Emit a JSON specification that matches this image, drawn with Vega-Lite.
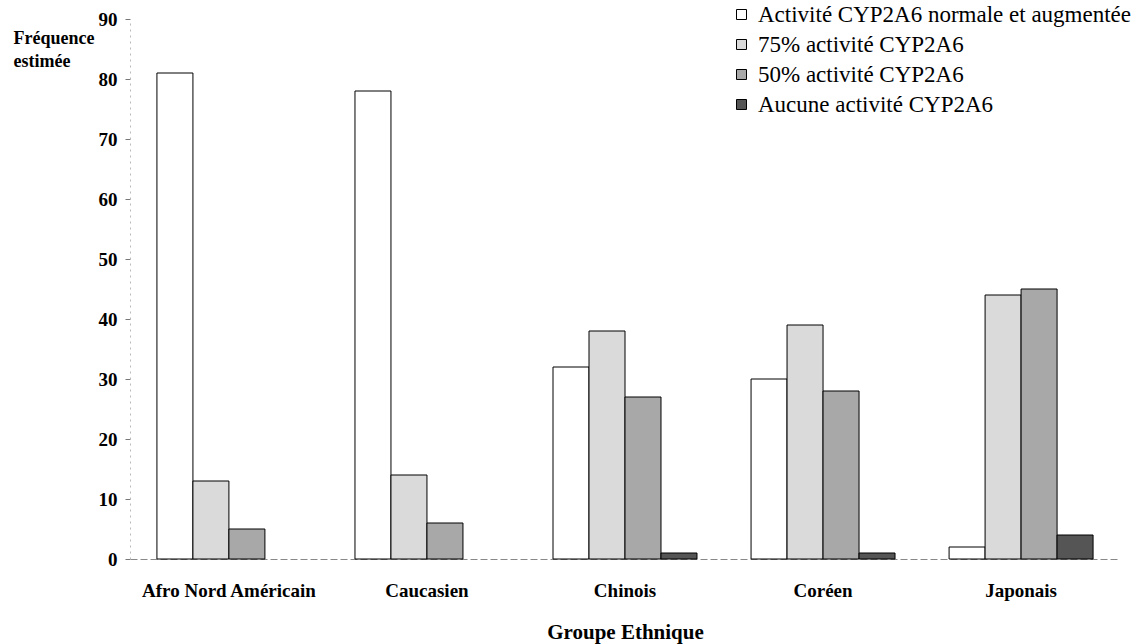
{
  "$schema": "https://vega.github.io/schema/vega-lite/v6.json",
  "width": 990,
  "height": 540,
  "autosize": {"type": "none"},
  "padding": {"left": 130, "top": 19, "right": 24, "bottom": 85},
  "background": "white",
  "config": {
    "view": {"stroke": null},
    "font": "Liberation Serif",
    "legend": {"labelFont": "Liberation Serif"},
    "axis": {"titleFont": "Liberation Serif", "labelFont": "Liberation Serif"}
  },
  "data": {
    "values": [
      {"groupe": "Afro Nord Américain", "activite": "Activité CYP2A6 normale et augmentée", "frequence": 81},
      {"groupe": "Afro Nord Américain", "activite": "75% activité CYP2A6", "frequence": 13},
      {"groupe": "Afro Nord Américain", "activite": "50% activité CYP2A6", "frequence": 5},
      {"groupe": "Caucasien", "activite": "Activité CYP2A6 normale et augmentée", "frequence": 78},
      {"groupe": "Caucasien", "activite": "75% activité CYP2A6", "frequence": 14},
      {"groupe": "Caucasien", "activite": "50% activité CYP2A6", "frequence": 6},
      {"groupe": "Chinois", "activite": "Activité CYP2A6 normale et augmentée", "frequence": 32},
      {"groupe": "Chinois", "activite": "75% activité CYP2A6", "frequence": 38},
      {"groupe": "Chinois", "activite": "50% activité CYP2A6", "frequence": 27},
      {"groupe": "Chinois", "activite": "Aucune activité CYP2A6", "frequence": 1},
      {"groupe": "Coréen", "activite": "Activité CYP2A6 normale et augmentée", "frequence": 30},
      {"groupe": "Coréen", "activite": "75% activité CYP2A6", "frequence": 39},
      {"groupe": "Coréen", "activite": "50% activité CYP2A6", "frequence": 28},
      {"groupe": "Coréen", "activite": "Aucune activité CYP2A6", "frequence": 1},
      {"groupe": "Japonais", "activite": "Activité CYP2A6 normale et augmentée", "frequence": 2},
      {"groupe": "Japonais", "activite": "75% activité CYP2A6", "frequence": 44},
      {"groupe": "Japonais", "activite": "50% activité CYP2A6", "frequence": 45},
      {"groupe": "Japonais", "activite": "Aucune activité CYP2A6", "frequence": 4}
    ]
  },
  "mark": {"type": "bar", "stroke": "black", "strokeWidth": 1, "opacity": 1},
  "encoding": {
    "x": {
      "field": "groupe",
      "type": "nominal",
      "sort": ["Afro Nord Américain", "Caucasien", "Chinois", "Coréen", "Japonais"],
      "scale": {"paddingInner": 0.273, "paddingOuter": 0.136},
      "axis": {
        "title": "Groupe Ethnique",
        "titleFont": "Liberation Serif",
        "titleFontSize": 21,
        "titleFontWeight": "bold",
        "titleColor": "black",
        "titlePadding": 21,
        "labelAngle": 0,
        "labelFont": "Liberation Serif",
        "labelFontSize": 19,
        "labelFontWeight": "bold",
        "labelColor": "black",
        "labelPadding": 22,
        "ticks": false,
        "domainColor": "#888888",
        "domainDash": [7, 3],
        "domainWidth": 1
      }
    },
    "xOffset": {
      "field": "activite",
      "type": "nominal",
      "scale": {"paddingInner": 0, "paddingOuter": 0, "domain": ["Activité CYP2A6 normale et augmentée", "75% activité CYP2A6", "50% activité CYP2A6", "Aucune activité CYP2A6"]}
    },
    "y": {
      "field": "frequence",
      "type": "quantitative",
      "scale": {"domain": [0, 90], "nice": false},
      "axis": {
        "title": ["Fréquence", "estimée"],
        "titleFont": "Liberation Serif",
        "titleFontSize": 18,
        "titleFontWeight": "bold",
        "titleColor": "black",
        "titleAngle": 0,
        "titleAlign": "left",
        "titleBaseline": "alphabetic",
        "titleLineHeight": 23,
        "titleX": -117,
        "titleY": 24,
        "values": [0, 10, 20, 30, 40, 50, 60, 70, 80, 90],
        "grid": false,
        "labelFont": "Liberation Serif",
        "labelFontSize": 19,
        "labelFontWeight": "bold",
        "labelColor": "black",
        "labelPadding": 8,
        "tickSize": 5,
        "tickColor": "#777777",
        "domainColor": "#bbbbbb",
        "domainDash": [2, 4]
      }
    },
    "fill": {
      "field": "activite",
      "type": "nominal",
      "scale": {
        "domain": ["Activité CYP2A6 normale et augmentée", "75% activité CYP2A6", "50% activité CYP2A6", "Aucune activité CYP2A6"],
        "range": ["#ffffff", "#dadada", "#a8a8a8", "#555555"]
      },
      "legend": {
        "title": null,
        "orient": "none",
        "legendX": 600,
        "legendY": -16,
        "symbolType": "square",
        "symbolSize": 100,
        "symbolStrokeColor": "black",
        "symbolStrokeWidth": 1,
        "symbolOpacity": 1,
        "labelFont": "Liberation Serif",
        "labelFontSize": 23,
        "labelColor": "black",
        "labelOffset": 5,
        "labelLimit": 500,
        "rowPadding": 6,
        "padding": 0
      }
    }
  }
}
